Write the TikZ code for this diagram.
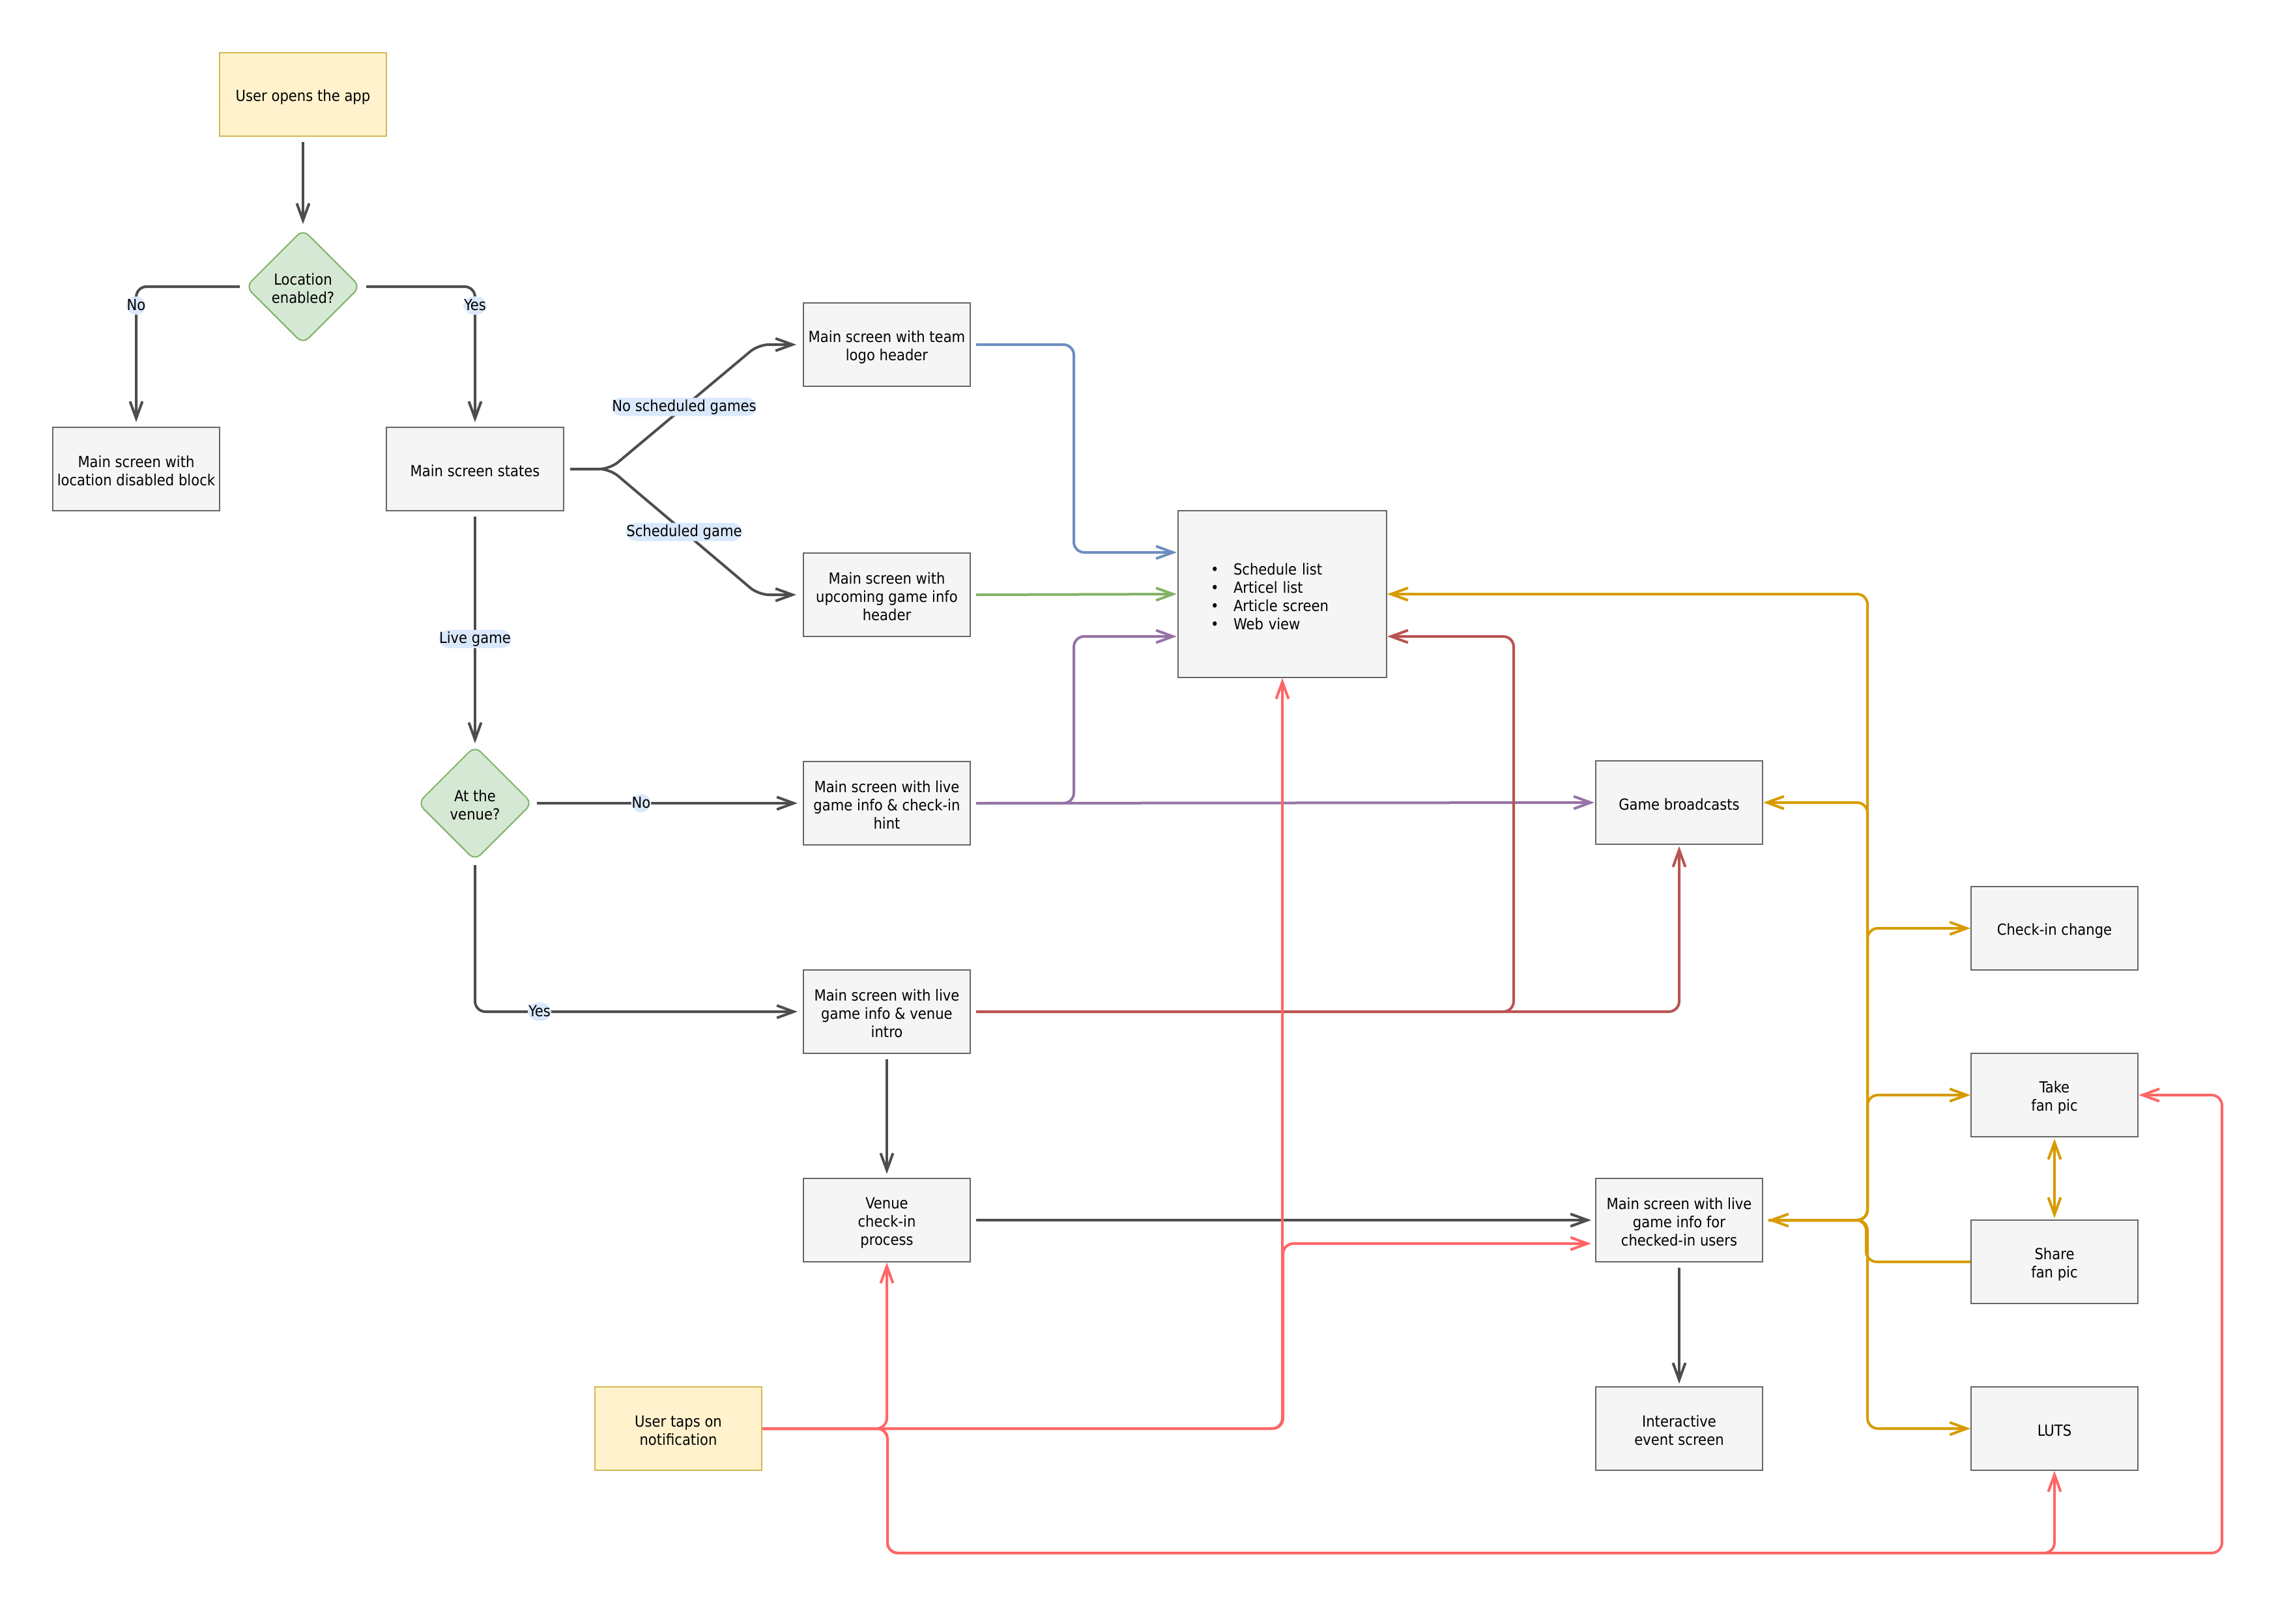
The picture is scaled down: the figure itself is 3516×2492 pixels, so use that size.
\documentclass[tikz,border=0pt]{standalone}
\usepackage{fontspec}
\setmainfont{DejaVu Sans Condensed}
\usetikzlibrary{arrows.meta,shapes.geometric,calc}
\definecolor{edgec}{HTML}{4D4D4D}
\definecolor{boxfill}{HTML}{F5F5F5}
\definecolor{boxline}{HTML}{666666}
\definecolor{ylwfill}{HTML}{FFF2CC}
\definecolor{ylwline}{HTML}{D6B656}
\definecolor{grnfill}{HTML}{D5E8D4}
\definecolor{grnline}{HTML}{82B366}
\definecolor{cblue}{HTML}{6C8EBF}
\definecolor{cgreen}{HTML}{82B366}
\definecolor{cpurple}{HTML}{9673A6}
\definecolor{cred}{HTML}{B85450}
\definecolor{corange}{HTML}{D79B00}
\definecolor{cpink}{HTML}{FF6666}
\definecolor{lblbg}{HTML}{DAE8FC}
\newcommand{\firstln}{\rule{0pt}{26pt}}
\begin{document}
\begin{tikzpicture}[x=1pt,y=-1pt,
  >={Straight Barb[length=26pt,width=19pt]},
  every node/.style={font=\fontsize{23.5pt}{28pt}\selectfont, text=black},
  linebox/.style={execute at begin node={\rule{0pt}{#1}}, execute at end node={\rule[-3pt]{0pt}{3pt}}},
  linebox/.default=25pt,
  box/.style={draw=boxline, fill=boxfill, line width=2pt, minimum width=256pt, minimum height=128pt, align=center, inner sep=2pt, linebox},
  startbox/.style={box, draw=ylwline, fill=ylwfill},
  decision/.style={diamond, aspect=1, draw=grnline, fill=grnfill, line width=2pt, minimum width=176pt, minimum height=176pt, inner sep=0pt, align=center, rounded corners=12pt, linebox},
  flow/.style={draw=edgec, line width=4pt, rounded corners=16pt, ->},
  lbl/.style={fill=lblbg, inner xsep=1pt, inner ysep=1pt, text height=20pt, text depth=6pt},
]
\fill[white] (0,0) rectangle (3516,2492);
\useasboundingbox (0,0) rectangle (3516,2492);

% nodes
\node[startbox] (app) at (465,145) {User opens the app};
\node[decision] (loc) at (465,440) {\firstln Location\\enabled?};
\node[box] (locoff) at (209,720) {\firstln Main screen with\\location disabled block};
\node[box, minimum width=272pt] (states) at (729,720) {Main screen states};
\node[box] (logo) at (1361,529) {\firstln Main screen with team\\logo header};
\node[box] (upcoming) at (1361,913) {\firstln Main screen with\\upcoming game info\\header};
\node[decision] (venue) at (729,1233) {\firstln At the\\venue?};
\node[box] (hint) at (1361,1233) {\firstln Main screen with live\\game info \& check-in\\hint};
\node[box] (intro) at (1361,1553) {\firstln Main screen with live\\game info \& venue\\intro};
\node[box] (checkin) at (1361,1873) {\firstln Venue\\check-in\\process};
\node[startbox] (notif) at (1041,2193) {\firstln User taps on\\notification};
\node[box, minimum width=320pt, minimum height=256pt, text width=220pt, align=left, inner xsep=50pt, linebox=27pt] (sched) at (1968,912)
  {\makebox[35pt][l]{•}Schedule list\\\makebox[35pt][l]{•}Articel list\\\makebox[35pt][l]{•}Article screen\\\makebox[35pt][l]{•}Web view};
\node[box] (bcast) at (2577,1232) {Game broadcasts};
\node[box] (checked) at (2577,1873) {\firstln Main screen with live\\game info for\\checked-in users};
\node[box] (inter) at (2577,2193) {\firstln Interactive\\event screen};
\node[box] (change) at (3153,1425) {Check-in change};
\node[box] (take) at (3153,1681) {\firstln Take\\fan pic};
\node[box] (share) at (3153,1937) {\firstln Share\\fan pic};
\node[box] (luts) at (3153,2193) {LUTS};

% dark connectors
\draw[flow] ([yshift=-8pt]app.south) -- ([yshift=7pt]loc.north);
\draw[flow] ([xshift=-8pt]loc.west) -| node[lbl,pos=0.57]{No} ([yshift=7pt]locoff.north);
\draw[flow] ([xshift=8pt]loc.east) -| node[lbl,pos=0.57]{Yes} ([yshift=7pt]states.north);
\draw[flow] ([xshift=9pt]states.east) -- ++(61,0) -- node[lbl]{No scheduled games} ([xshift=-68pt]logo.west) -- ([xshift=-10pt]logo.west);
\draw[flow] ([xshift=9pt]states.east) -- ++(61,0) -- node[lbl]{Scheduled game} ([xshift=-68pt]upcoming.west) -- ([xshift=-10pt]upcoming.west);
\draw[flow] ([yshift=-8pt]states.south) -- node[lbl,pos=0.54]{Live game} ([yshift=3pt]venue.north);
\draw[flow] ([xshift=6pt]venue.east) -- node[lbl,pos=0.40]{No} ([xshift=-8pt]hint.west);
\draw[flow] ([yshift=-6pt]venue.south) |- node[lbl,pos=0.6]{Yes} ([xshift=-8pt]intro.west);
\draw[flow] ([yshift=-8pt]intro.south) -- ([yshift=6pt]checkin.north);
\draw[flow] ([xshift=8pt]checkin.east) -- ([xshift=-6pt]checked.west);
\draw[flow] ([yshift=-8pt]checked.south) -- ([yshift=4pt]inter.north);

% coloured connectors to the list
\draw[flow, draw=cblue] ([xshift=8pt]logo.east) -- ++(150,0) |- ([xshift=-1pt,yshift=64pt]sched.west);
\draw[flow, draw=cgreen] ([xshift=8pt]upcoming.east) -- ([xshift=-1pt]sched.west);
\draw[flow, draw=cpurple] ([xshift=8pt]hint.east) -- ++(150,0) |- ([xshift=-1pt,yshift=-65pt]sched.west);
\draw[flow, draw=cpurple] ([xshift=8pt]hint.east) -- ([xshift=-1pt]bcast.west);
\draw[flow, draw=cred] ([xshift=8pt]intro.east) -- ++(825,0) |- ([yshift=-65pt]sched.east);
\draw[flow, draw=cred] ([xshift=8pt]intro.east) -| ([yshift=-2pt]bcast.south);

% orange hub
\draw[flow, draw=corange] ([xshift=8pt]checked.east) -- ++(152,0) |- (sched.east);
\draw[flow, draw=corange] ([xshift=8pt]checked.east) -- ++(152,0) |- (bcast.east);
\draw[flow, draw=corange] ([xshift=8pt]checked.east) -- ++(152,0) |- (change.west);
\draw[flow, draw=corange] ([xshift=8pt]checked.east) -- ++(152,0) |- (take.west);
\draw[flow, draw=corange] ([xshift=8pt]checked.east) -- ++(152,0) |- (luts.west);
\draw[flow, draw=corange] (share.west) -- ++(-160,0) |- ([xshift=7pt]checked.east);
\draw[flow, draw=corange, <->] ([yshift=-2pt]take.south) -- ([yshift=2pt]share.north);

% notification connectors
\draw[flow, draw=cpink] (notif.east) -| (checkin.south);
\draw[flow, draw=cpink] (notif.east) -| (sched.south);
\draw[flow, draw=cpink] (notif.east) -- ++(799,0) |- ([xshift=-6pt,yshift=-36pt]checked.west);
\draw[flow, draw=cpink] (notif.east) -- ++(192,0) -- ++(0,191) -| (luts.south);
\draw[flow, draw=cpink] (notif.east) -- ++(192,0) -- ++(0,191) -- ++(2048,0) |- (take.east);
\end{tikzpicture}
\end{document}
